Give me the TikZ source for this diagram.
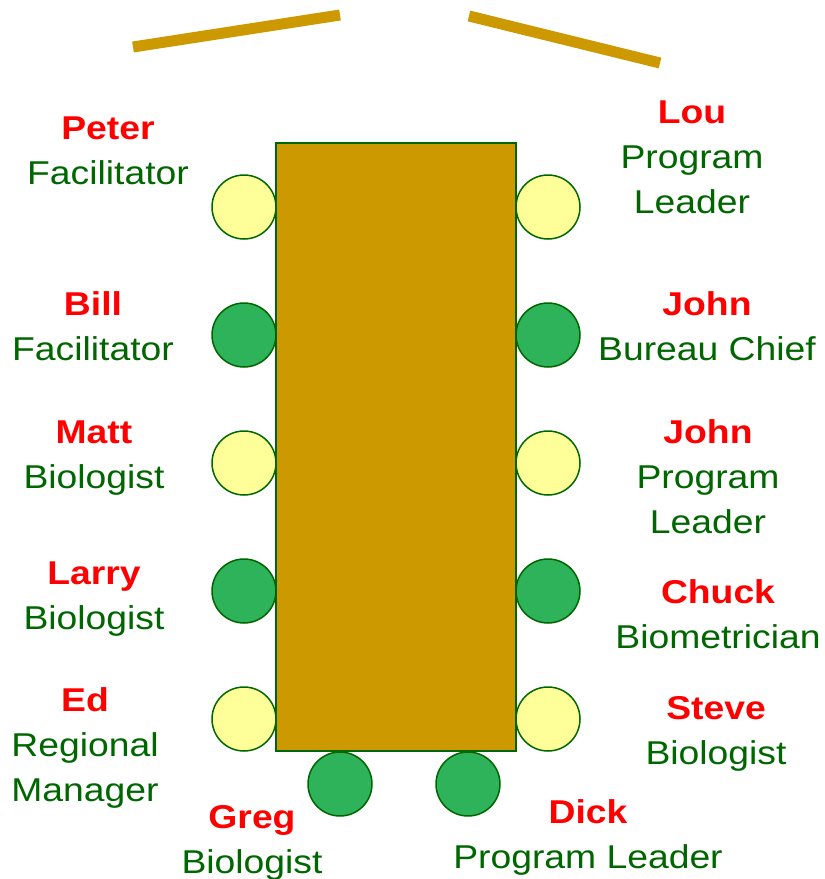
\documentclass[tikz,border=0pt]{standalone}
\usepackage{fontspec}
\setmainfont{Liberation Sans}[FakeStretch=1.13]
\definecolor{tablegold}{HTML}{CC9900}
\definecolor{rimgreen}{HTML}{006600}
\definecolor{seatyellow}{HTML}{FFFF99}
\definecolor{seatgreen}{HTML}{2EB25A}
\definecolor{namered}{HTML}{FF0000}
\newcommand\nm[1]{{\color{namered}\bfseries #1}}
\newcommand\who[1]{\begin{tabular}[t]{@{}c@{}}#1\end{tabular}}
\begin{document}
\begin{tikzpicture}[x=1pt,y=-1pt,
  tablebox/.style={draw=rimgreen,line width=1.3pt,fill=tablegold},
  seat/.style={circle,draw=rimgreen,line width=1.5pt,minimum size=64pt,inner sep=0pt},
  lightseat/.style={seat,fill=seatyellow},
  darkseat/.style={seat,fill=seatgreen},
  wall/.style={draw=tablegold,line width=11pt},
  lbl/.style={anchor=base,inner sep=0pt,text=rimgreen,
    font=\fontsize{33}{45}\selectfont}]
\useasboundingbox (0,0) rectangle (825,879);

% doorway walls
\coordinate (wl1) at (133,47);
\coordinate (wl2) at (340,15);
\coordinate (wr1) at (469,16);
\coordinate (wr2) at (660,63);
\draw[wall] (wl1) -- (wl2);
\draw[wall] (wr1) -- (wr2);

% seats along the left side
\node[lightseat] (s1) at (244,207) {};
\node[darkseat]  (s2) at (244,335) {};
\node[lightseat] (s3) at (244,463) {};
\node[darkseat]  (s4) at (244,591) {};
\node[lightseat] (s5) at (244,719) {};
% seats along the right side
\node[lightseat] (s6)  at (548,207) {};
\node[darkseat]  (s7)  at (548,335) {};
\node[lightseat] (s8)  at (548,463) {};
\node[darkseat]  (s9)  at (548,591) {};
\node[lightseat] (s10) at (548,719) {};
% seats at the foot
\node[darkseat] (s11) at (340,784) {};
\node[darkseat] (s12) at (468,784) {};

% the table
\node[tablebox,minimum width=240pt,minimum height=608pt,inner sep=0pt] (table) at (396,447) {};

% left names
\node[lbl] (peter) at (108,139) {\who{\nm{Peter}\\Facilitator}};
\node[lbl] (bill)  at (93,315)  {\who{\nm{Bill}\\Facilitator}};
\node[lbl] (matt)  at (94,443)  {\who{\nm{Matt}\\Biologist}};
\node[lbl] (larry) at (94,584)  {\who{\nm{Larry}\\Biologist}};
\node[lbl] (ed)    at (85,711)  {\who{\nm{Ed}\\Regional\\Manager}};
\node[lbl] (greg)  at (252,828) {\who{\nm{Greg}\\Biologist}};
% right names
\node[lbl] (lou)   at (692,123) {\who{\nm{Lou}\\Program\\Leader}};
\node[lbl] (john)  at (707,315) {\who{\nm{John}\\Bureau Chief}};
\node[lbl] (john2) at (708,443) {\who{\nm{John}\\Program\\Leader}};
\node[lbl] (chuck) at (718,603) {\who{\nm{Chuck}\\Biometrician}};
\node[lbl] (steve) at (716,719) {\who{\nm{Steve}\\Biologist}};
\node[lbl] (dick)  at (588,823) {\who{\nm{Dick}\\Program Leader}};
\end{tikzpicture}
\end{document}
